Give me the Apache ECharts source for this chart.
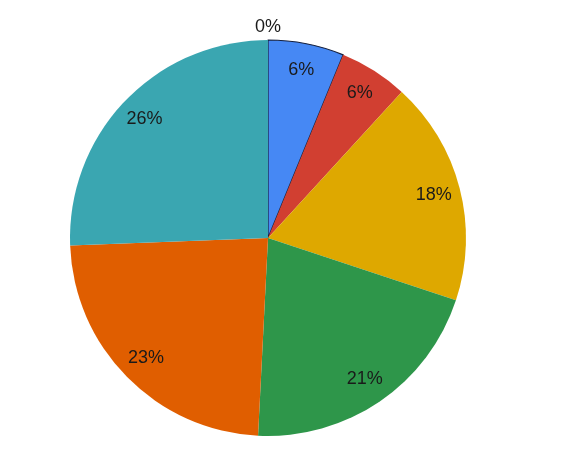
<!DOCTYPE html>
<html>
<head>
<meta charset="utf-8">
<script src="https://cdn.jsdelivr.net/npm/echarts@6/dist/echarts.min.js"></script>
<style>html,body{margin:0;padding:0;background:#fff}#c{width:563px;height:463px}</style>
</head>
<body>
<div id="c"></div>
<script>
const categories = ['A', 'B', 'C', 'D', 'E', 'F', 'G'];
const values = [0, 6.2, 5.6, 18.3, 20.7, 23.6, 25.6];
const labels = ['0%', '6%', '6%', '18%', '21%', '23%', '26%'];
const colors = ['#1f3a93', '#4688f4', '#d13f31', '#dea800', '#2e964a', '#e05e00', '#3aa6b1'];

const chart = echarts.init(document.getElementById('c'), null, {renderer: 'canvas'});
const center = [268, 238];
const R = 198;

const pieData = categories.map((c, i) => ({
  name: c,
  value: values[i],
  itemStyle: i === 1 ? {color: colors[i], borderColor: '#16213f', borderWidth: 1.2} : {color: colors[i]}
}));
const labelData = categories.map((c, i) => ({
  name: c,
  value: values[i],
  label: i === 0 ? {offset: [0, -40]} : {},
  labelLine: {show: false}
}));

chart.setOption({
  animation: false,
  series: [
    {
      type: 'pie',
      center: center,
      radius: [0, R],
      startAngle: 90,
      clockwise: true,
      silent: true,
      label: {show: false},
      labelLine: {show: false},
      data: pieData
    },
    {
      type: 'pie',
      center: center,
      radius: [R * 0.7, R],
      startAngle: 90,
      clockwise: true,
      silent: true,
      itemStyle: {color: 'transparent'},
      label: {
        show: true,
        position: 'inside',
        fontFamily: 'Liberation Sans, Arial, sans-serif',
        fontSize: 18,
        color: '#1a1a1a',
        formatter: p => labels[p.dataIndex]
      },
      labelLine: {show: false},
      data: labelData
    }
  ]
});
</script>
</body>
</html>
